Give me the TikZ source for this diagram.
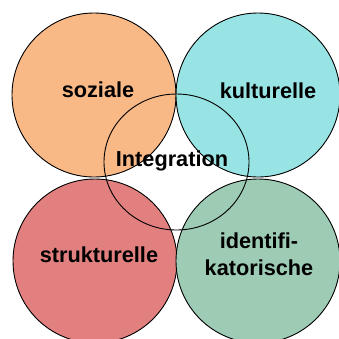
\documentclass[tikz,border=0pt]{standalone}
\usepackage{fontspec}
\setmainfont{Liberation Sans}
\usetikzlibrary{shapes.geometric}
\definecolor{sozOrange}{HTML}{F9B987}
\definecolor{kultCyan}{HTML}{98E4E4}
\definecolor{strukRed}{HTML}{E27F7F}
\definecolor{identGreen}{HTML}{9DCBB4}

\begin{document}
\begin{tikzpicture}[
  x=1pt, y=-1pt,
  ring/.style={circle, draw=black, line width=0.9pt, minimum size=164pt, inner sep=0pt},
  core/.style={ellipse, draw=black, line width=0.9pt, minimum width=145pt, minimum height=136pt, inner sep=0pt},
  word/.style={font=\fontsize{21.7}{27}\selectfont\bfseries, align=center, inner sep=0pt}
]
\useasboundingbox (0,0) rectangle (339,338);
\clip (0,0) rectangle (339,338);

% the four dimensions
\node[ring, fill=sozOrange] (soz) at (94,95) {};
\node[ring, fill=kultCyan] (kult) at (258,95) {};
\node[ring, fill=strukRed] (struk) at (95,261) {};
\node[ring, fill=identGreen] (ident) at (258,261) {};

% integration in the middle
\node[core] (integ) at (176.5,162) {};

\node[word] (sozT) at (98,90) {soziale};
\node[word] (kultT) at (268,91) {kulturelle};
\node[word] (strukT) at (99,255) {strukturelle};
\node[word] (identT) at (259,254) {identifi-\\katorische};
\node[word] (integT) at (172,161) {Integration};

\end{tikzpicture}
\end{document}
